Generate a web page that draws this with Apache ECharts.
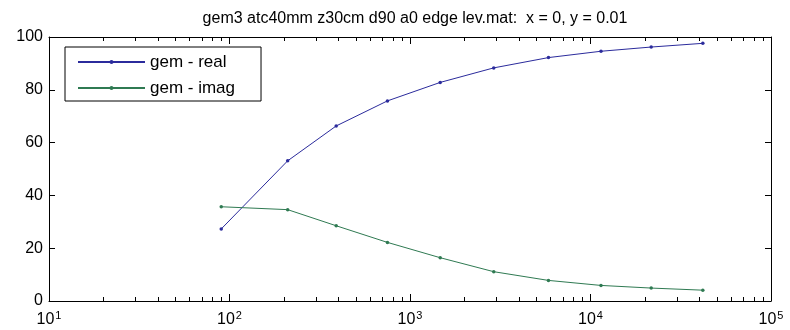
<!DOCTYPE html>
<html><head><meta charset="utf-8">
<script src="https://cdn.jsdelivr.net/npm/echarts@6/dist/echarts.min.js"></script>
<style>html,body{margin:0;padding:0;background:#fff}#c{width:790px;height:330px}</style>
</head><body><div id="c"></div>
<script>
const freqs = [90, 210, 390, 750, 1470, 2910, 5850, 11430, 21690, 41910];
const gemReal = [27.3, 53.1, 66.3, 75.8, 82.8, 88.3, 92.2, 94.6, 96.2, 97.6];
const gemImag = [35.7, 34.6, 28.5, 22.2, 16.4, 11.1, 7.8, 5.9, 4.9, 4.1];
const yTicks = [0, 20, 40, 60, 80, 100];
const xDecades = [10, 100, 1000, 10000, 100000];
const minorTicks = [20,30,40,50,60,70,80,90,200,300,400,500,600,700,800,900,
  2000,3000,4000,5000,6000,7000,8000,9000,20000,30000,40000,50000,60000,70000,80000,90000];
const titleText = 'gem3 atc40mm z30cm d90 a0 edge lev.mat:  x = 0, y = 0.01';

const FONT = '"Liberation Sans", Arial, Helvetica, sans-serif';
const BLUE = '#2b2b9c';
const GREEN = '#2f7a52';

const chart = echarts.init(document.getElementById('c'), null, {renderer: 'canvas'});
const yMin = yTicks[0], yMax = yTicks[yTicks.length - 1];
const xMin = xDecades[0], xMax = xDecades[xDecades.length - 1];

const logAxisBase = {
  type: 'log', logBase: 10, min: xMin, max: xMax,
  axisLine: {show: true, onZero: false, lineStyle: {color: '#000', width: 1}},
  axisTick: {show: true, inside: true, length: 7, lineStyle: {color: '#000'}},
  splitLine: {show: false}, minorTick: {show: false}
};
const valAxisBase = {
  type: 'value', min: yMin, max: yMax, interval: 20,
  axisLine: {show: true, onZero: false, lineStyle: {color: '#000', width: 1}},
  axisTick: {show: true, inside: true, length: 6, lineStyle: {color: '#000'}},
  splitLine: {show: false}
};

chart.setOption({
  animation: false,
  backgroundColor: '#fff',
  title: {
    text: titleText, left: 410, top: 6, textAlign: 'center',
    textStyle: {fontFamily: FONT, fontSize: 16, fontWeight: 'normal', color: '#000'}
  },
  grid: {left: 49, right: 19, top: 37, bottom: 29, containLabel: false},
  legend: {
    orient: 'vertical', left: 65, top: 47,
    padding: [5, 26, 3, 12], itemGap: 6, itemWidth: 67, itemHeight: 5,
    borderColor: '#000', borderWidth: 1, backgroundColor: '#fff',
    textStyle: {fontFamily: FONT, fontSize: 17, color: '#000', lineHeight: 20},
    data: ['gem - real', 'gem - imag']
  },
  xAxis: [
    Object.assign({}, logAxisBase, {
      position: 'bottom',
      axisLabel: {
        show: true, margin: 9, color: '#000', fontFamily: FONT,
        formatter: v => '{b|10}{s|' + Math.round(Math.log10(v)) + '}',
        rich: {
          b: {fontFamily: FONT, fontSize: 16, color: '#000', verticalAlign: 'bottom', lineHeight: 18},
          s: {fontFamily: FONT, fontSize: 11, color: '#000', verticalAlign: 'top', lineHeight: 18, padding: [0, 0, 0, 1]}
        }
      }
    }),
    Object.assign({}, logAxisBase, {position: 'top', axisLabel: {show: false}})
  ],
  yAxis: [
    Object.assign({}, valAxisBase, {
      position: 'left',
      axisLabel: {show: true, margin: 6, color: '#000', fontFamily: FONT, fontSize: 16}
    }),
    Object.assign({}, valAxisBase, {position: 'right', axisLabel: {show: false}})
  ],
  series: [
    {
      name: 'gem - real', type: 'line', xAxisIndex: 0, yAxisIndex: 0,
      data: freqs.map((f, i) => [f, gemReal[i]]),
      symbol: 'circle', symbolSize: 3.5, showSymbol: true,
      lineStyle: {color: BLUE, width: 1}, itemStyle: {color: BLUE}, z: 3
    },
    {
      name: 'gem - imag', type: 'line', xAxisIndex: 0, yAxisIndex: 0,
      data: freqs.map((f, i) => [f, gemImag[i]]),
      symbol: 'circle', symbolSize: 3.5, showSymbol: true,
      lineStyle: {color: GREEN, width: 1}, itemStyle: {color: GREEN}, z: 3
    },
    {
      type: 'custom', xAxisIndex: 0, yAxisIndex: 0, silent: true,
      data: minorTicks.map(v => [v, yMin]),
      encode: {x: 0, y: 1},
      renderItem: (params, api) => {
        const v = api.value(0);
        const b = api.coord([v, yMin]);
        const t = api.coord([v, yMax]);
        const x = Math.round(b[0]) + 0.5;
        return {
          type: 'group',
          children: [
            {type: 'line', shape: {x1: x, y1: b[1], x2: x, y2: b[1] - 4}, style: {stroke: '#000', lineWidth: 1}},
            {type: 'line', shape: {x1: x, y1: t[1], x2: x, y2: t[1] + 4}, style: {stroke: '#000', lineWidth: 1}}
          ]
        };
      },
      z: 1
    }
  ]
});
</script></body></html>
